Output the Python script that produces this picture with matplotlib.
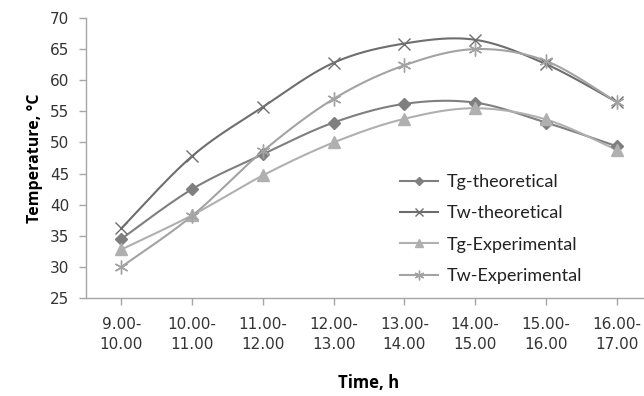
import numpy as np
import matplotlib
matplotlib.use("Agg")
import matplotlib.pyplot as plt
from matplotlib.lines import Line2D

categories = ["9.00-\n10.00", "10.00-\n11.00", "11.00-\n12.00", "12.00-\n13.00",
              "13.00-\n14.00", "14.00-\n15.00", "15.00-\n16.00", "16.00-\n17.00"]
tg_theoretical = [34.5, 42.5, 48.1, 53.2, 56.2, 56.4, 53.2, 49.4]
tw_theoretical = [36.2, 47.8, 55.7, 62.8, 65.9, 66.5, 62.6, 56.5]
tg_experimental = [32.8, 38.3, 44.7, 50.0, 53.8, 55.5, 53.7, 48.8]
tw_experimental = [30.0, 38.2, 48.6, 57.0, 62.4, 65.0, 63.1, 56.5]

series = [
    ("Tg-theoretical", tg_theoretical, "#7f7f7f", "D", 6, 1.5),
    ("Tw-theoretical", tw_theoretical, "#6e6e6e", "x", 9, 1.5),
    ("Tg-Experimental", tg_experimental, "#b0b0b0", "^", 8, 1.5),
    ("Tw-Experimental", tw_experimental, "#a3a3a3", (6, 2, 0), 10, 1.5),
]


def smooth(xs, ys, n=30):
    xs = np.asarray(xs, float)
    ys = np.asarray(ys, float)
    px = np.concatenate([[xs[0]], xs, [xs[-1]]])
    py = np.concatenate([[ys[0]], ys, [ys[-1]]])
    outx, outy = [], []
    t = np.linspace(0, 1, n)
    for i in range(1, len(px) - 2):
        p0 = np.array([px[i], py[i]])
        p3 = np.array([px[i + 1], py[i + 1]])
        p1 = p0 + (np.array([px[i + 1], py[i + 1]]) - np.array([px[i - 1], py[i - 1]])) / 6
        p2 = p3 - (np.array([px[i + 2], py[i + 2]]) - np.array([px[i], py[i]])) / 6
        b = ((1 - t) ** 3)[:, None] * p0 + (3 * (1 - t) ** 2 * t)[:, None] * p1 \
            + (3 * (1 - t) * t ** 2)[:, None] * p2 + (t ** 3)[:, None] * p3
        outx.extend(b[:, 0])
        outy.extend(b[:, 1])
    return outx, outy


fig = plt.figure(figsize=(6.44, 3.96), dpi=100)
ax = fig.add_axes([86 / 644, 1 - 298 / 396, (652 - 86) / 644, (298 - 18) / 396])

x = np.arange(len(categories))
handles = []
for name, vals, col, mk, ms, lw in series:
    sx, sy = smooth(x, vals)
    ax.plot(sx, sy, color=col, lw=lw, zorder=2)
    ax.plot(x, vals, ls="none", marker=mk, ms=ms, color=col, mec=col, mew=1.0, zorder=3)
    handles.append(Line2D([], [], color=col, lw=lw, marker=mk, ms=ms * 0.7, mec=col, mew=1.0))

ax.set_xlim(-0.5, 7.5)
ax.set_ylim(25, 70)
ax.set_yticks(np.arange(25, 71, 5))
ax.set_xticks(x)
ax.set_xticklabels(categories, fontsize=11, color="#333333", family="DejaVu Sans", linespacing=1.35)
for lab in ax.get_yticklabels():
    lab.set_fontsize(11)
    lab.set_color("#333333")
    lab.set_family("DejaVu Sans")

for s in ["top", "right"]:
    ax.spines[s].set_visible(False)
for s in ["left", "bottom"]:
    ax.spines[s].set_color("#a6a6a6")
    ax.spines[s].set_linewidth(1.0)
ax.tick_params(axis="both", direction="out", color="#a6a6a6", length=5, width=1.0)
ax.tick_params(axis="x", pad=9)
ax.tick_params(axis="y", pad=7)

ax.set_ylabel("Temperature, °C", fontsize=11.5, fontweight="bold", family="Open Sans", labelpad=5)
fig.text(369 / 644, 1 - 383 / 396, "Time, h", ha="center", va="center",
         fontsize=12, fontweight="bold", family="Open Sans")

leg = ax.legend(handles, [s[0] for s in series], loc="upper left",
                bbox_to_anchor=((391 - 86) / 566, (298 - 165) / 280),
                frameon=False, prop={"family": "Lato", "size": 13},
                handlelength=2.1, labelspacing=0.85, handletextpad=0.5, borderpad=0)
for t in leg.get_texts():
    t.set_color("#222222")

fig.savefig("out.png", dpi=100)
